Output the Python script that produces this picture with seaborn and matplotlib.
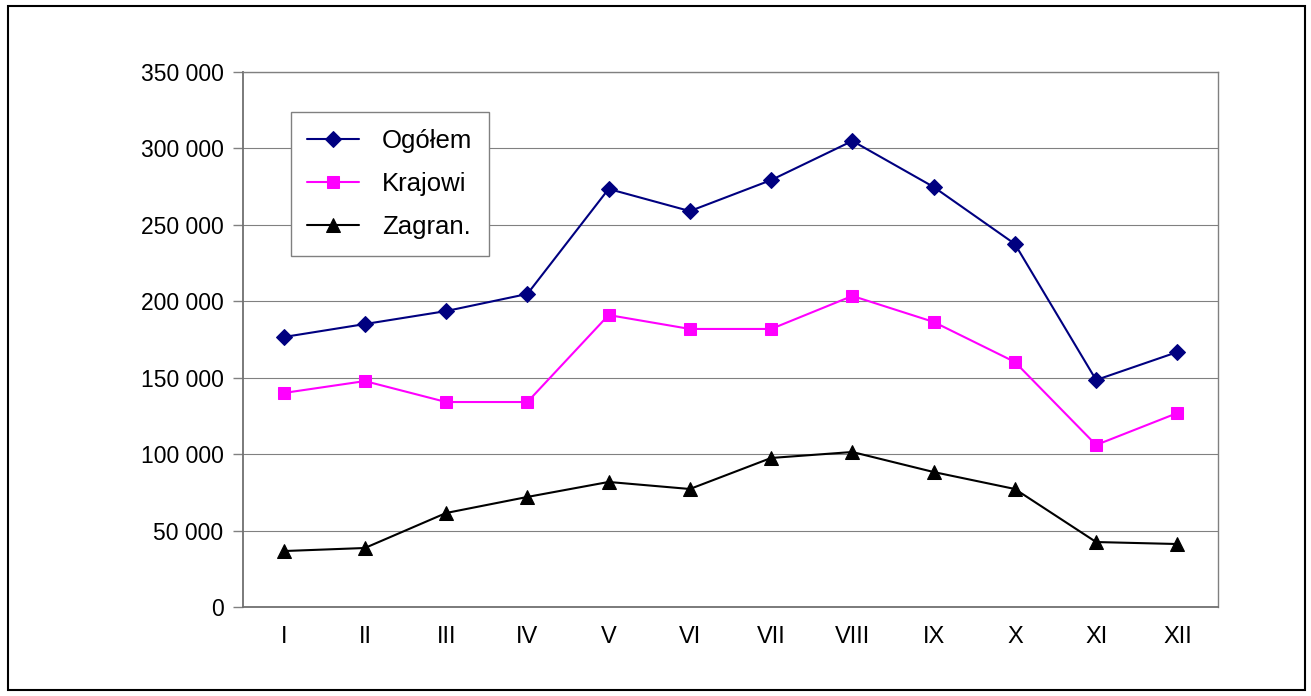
import pandas as pd
import matplotlib
matplotlib.use('Agg')
import matplotlib.pyplot as plt
import matplotlib.ticker as mticker
from matplotlib.patches import Rectangle
import seaborn as sns

# Data
months = ['I', 'II', 'III', 'IV', 'V', 'VI', 'VII', 'VIII', 'IX', 'X', 'XI', 'XII']
ogolem = [176600, 185100, 193600, 204800, 273500, 259000, 279300, 304900, 274800, 237500, 148500, 166800]
krajowi = [140000, 147800, 134100, 134100, 191000, 181900, 181900, 203500, 186500, 160300, 106000, 126900]
zagran = [36600, 38600, 61500, 72000, 81800, 77200, 97500, 101400, 88300, 77200, 42500, 41200]
series_names = ['Ogółem', 'Krajowi', 'Zagran.']

rows = []
for name, vals in zip(series_names, [ogolem, krajowi, zagran]):
    for i, v in enumerate(vals):
        rows.append({'Miesiac': i, 'Seria': name, 'Wartosc': v})
df = pd.DataFrame(rows)

sns.set_style('white')
plt.rcParams['font.family'] = ['Liberation Sans', 'DejaVu Sans']
plt.rcParams['text.color'] = 'black'
plt.rcParams['xtick.labelcolor'] = 'black'
plt.rcParams['ytick.labelcolor'] = 'black'

fig = plt.figure(figsize=(13.11, 6.96), dpi=100)
ax = fig.add_axes([243 / 1311, 1 - 607 / 696, 975 / 1311, 535 / 696])

palette = {'Ogółem': '#000080', 'Krajowi': '#FF00FF', 'Zagran.': '#000000'}
markers = {'Ogółem': 'D', 'Krajowi': 's', 'Zagran.': '^'}
sizes = {'Ogółem': 8, 'Krajowi': 9, 'Zagran.': 10}

for name in series_names:
    sns.lineplot(data=df[df['Seria'] == name], x='Miesiac', y='Wartosc', ax=ax,
                 color=palette[name], marker=markers[name], markersize=sizes[name],
                 markeredgecolor=palette[name], linewidth=1.5, label=name)

ax.set_xlim(-0.5, 11.5)
ax.set_ylim(0, 350000)
ax.set_yticks(range(0, 350001, 50000))
ax.yaxis.set_major_formatter(mticker.FuncFormatter(lambda v, p: f'{int(v):,}'.replace(',', ' ')))
ax.set_xticks(range(12))
ax.set_xticklabels(months)
ax.set_xticks([i - 0.5 for i in range(13)], minor=True)
ax.tick_params(axis='x', which='major', length=0, pad=14, labelsize=17)
ax.tick_params(axis='x', which='minor', length=6.5, color='#808080', width=1)
ax.tick_params(axis='y', length=7, color='#808080', width=1, pad=7, left=True, labelsize=16.5)
ax.set_xlabel('')
ax.set_ylabel('')
ax.grid(axis='y', color='#808080', linewidth=0.8)
for side in ['top', 'right']:
    ax.spines[side].set_color('#808080')
    ax.spines[side].set_linewidth(1)
for side in ['left', 'bottom']:
    ax.spines[side].set_color('#707070')
    ax.spines[side].set_linewidth(1.3)

leg = ax.legend(loc='upper left', bbox_to_anchor=(0.049, 0.925), fontsize=18.5,
                frameon=True, fancybox=False, edgecolor='#808080', framealpha=1,
                borderaxespad=0, handlelength=2.0, labelspacing=0.75, borderpad=0.65,
                handletextpad=0.9)
leg.get_frame().set_linewidth(1)

fig.patches.append(Rectangle((8 / 1311, 6 / 696), 1297 / 1311, 684 / 696, transform=fig.transFigure,
                             fill=False, edgecolor='black', linewidth=1.5))

fig.savefig('out.png', dpi=100)
